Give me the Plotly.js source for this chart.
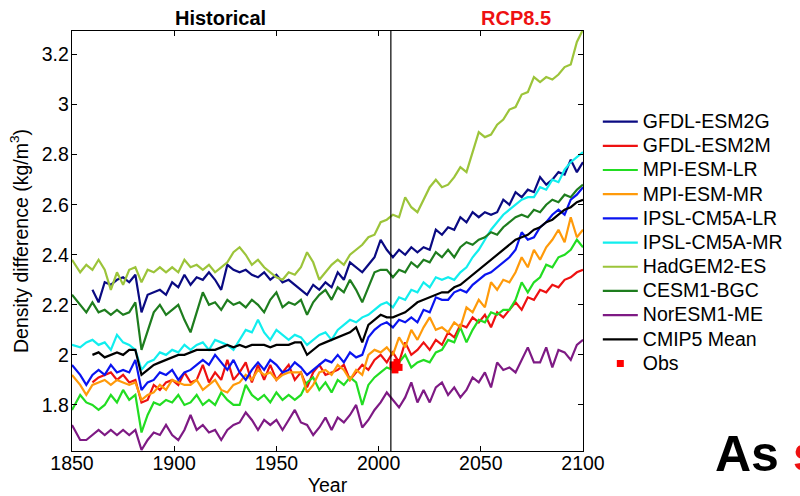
<!DOCTYPE html>
<html>
<head>
<meta charset="utf-8">
<script src="https://cdn.plot.ly/plotly-3.0.1.min.js"></script>
<style>
  html, body { margin: 0; padding: 0; background: #ffffff; }
  #chart { width: 800px; height: 496px; }
</style>
</head>
<body>
<div id="chart"></div>
<script>
// Surface density difference, CMIP5 historical + RCP8.5 runs
const years = [1850, 1854, 1857, 1860, 1863, 1866, 1869, 1872, 1875, 1878,
  1881, 1884, 1887, 1890, 1893, 1896, 1899, 1902, 1905, 1908,
  1911, 1914, 1917, 1920, 1923, 1926, 1929, 1932, 1935, 1938,
  1941, 1944, 1947, 1950, 1953, 1956, 1959, 1962, 1965, 1968,
  1971, 1974, 1977, 1980, 1983, 1986, 1989, 1992, 1995, 1998,
  2001, 2004, 2007, 2010, 2013, 2016, 2019, 2022, 2025, 2028,
  2031, 2034, 2037, 2040, 2043, 2046, 2049, 2052, 2055, 2058,
  2061, 2064, 2067, 2070, 2073, 2076, 2079, 2082, 2085, 2088,
  2091, 2094, 2097, 2100];

const gfdlEsm2g = [null, null, null, 2.26, 2.21, 2.29, 2.28, 2.30, 2.31, 2.29,
  2.32, 2.17, 2.24, 2.25, 2.26, 2.24, 2.29, 2.27, 2.32, 2.28,
  2.31, 2.30, 2.33, 2.30, 2.26, 2.36, 2.34, 2.33, 2.34, 2.32,
  2.31, 2.33, 2.30, 2.32, 2.29, 2.30, 2.28, 2.26, 2.24, 2.28,
  2.26, 2.29, 2.27, 2.33, 2.30, 2.37, 2.35, 2.33, 2.36, 2.39,
  2.46, 2.42, 2.39, 2.42, 2.40, 2.43, 2.41, 2.43, 2.42, 2.50,
  2.48, 2.51, 2.50, 2.55, 2.53, 2.57, 2.55, 2.57, 2.56, 2.57,
  2.62, 2.60, 2.65, 2.63, 2.66, 2.65, 2.71, 2.68, 2.70, 2.73,
  2.72, 2.78, 2.73, 2.77];

const gfdlEsm2m = [null, null, null, 1.89, 1.91, 1.92, 1.93, 1.90, 1.92, 1.89,
  1.90, 1.81, 1.82, 1.88, 1.86, 1.89, 1.90, 1.88, 1.93, 1.89,
  1.90, 1.96, 1.89, 1.93, 1.90, 1.98, 1.90, 1.93, 1.97, 1.89,
  1.96, 1.90, 1.96, 1.90, 1.93, 1.96, 1.90, 1.93, 1.87, 1.93,
  1.96, 1.92, 1.93, 1.94, 1.96, 1.90, 1.93, 1.96, 1.94, 1.98,
  2.00, 1.97, 2.01, 1.97, 2.05, 2.00, 2.02, 2.05, 2.02, 2.06,
  2.04, 2.09, 2.07, 2.12, 2.11, 2.15, 2.13, 2.16, 2.11, 2.17,
  2.15, 2.18, 2.21, 2.18, 2.23, 2.22, 2.26, 2.25, 2.28, 2.27,
  2.30, 2.31, 2.33, 2.34];

const mpiEsmLr = [1.78, 1.84, 1.81, 1.80, 1.78, 1.80, 1.84, 1.81, 1.86, 1.82,
  1.84, 1.69, 1.76, 1.81, 1.80, 1.82, 1.81, 1.84, 1.80, 1.81,
  1.84, 1.80, 1.82, 1.80, 1.85, 1.82, 1.80, 1.80, 1.88, 1.84,
  1.82, 1.84, 1.81, 1.85, 1.82, 1.84, 1.82, 1.84, 1.89, 1.91,
  1.86, 1.89, 1.85, 1.90, 1.88, 1.91, 1.89, 1.80, 1.88, 1.91,
  1.93, 1.95, 1.94, 1.97, 2.00, 1.95, 1.97, 1.98, 1.97, 2.01,
  2.02, 2.06, 2.05, 2.11, 2.05, 2.10, 2.14, 2.13, 2.17, 2.16,
  2.18, 2.18, 2.22, 2.29, 2.25, 2.29, 2.31, 2.36, 2.35, 2.39,
  2.40, 2.42, 2.46, 2.43];

const mpiEsmMr = [1.92, 1.88, 1.84, 1.88, 1.89, 1.90, 1.88, 1.90, 1.89, 1.88,
  1.89, 1.82, 1.84, 1.85, 1.88, 1.86, 1.90, 1.89, 1.88, 1.88,
  1.90, 1.86, 1.88, 1.90, 1.86, 1.85, 1.88, 1.89, 1.92, 1.90,
  1.94, 1.92, 1.93, 1.90, 1.92, 1.93, 1.93, 1.93, 1.85, 1.88,
  1.93, 1.94, 1.92, 1.96, 1.94, 1.90, 1.94, 1.92, 2.00, 2.02,
  2.01, 2.03, 2.00, 2.07, 2.03, 2.10, 2.06, 2.11, 2.15, 2.10,
  2.11, 2.09, 2.13, 2.11, 2.19, 2.17, 2.22, 2.19, 2.29, 2.26,
  2.30, 2.29, 2.33, 2.39, 2.35, 2.42, 2.38, 2.43, 2.46, 2.50,
  2.45, 2.55, 2.47, 2.50];

const ipslLr = [1.96, 1.92, 1.88, 1.92, 1.94, 1.92, 1.96, 1.93, 1.94, 1.93,
  1.98, 1.86, 1.89, 1.90, 1.93, 1.92, 1.94, 1.90, 1.93, 1.94,
  1.96, 1.98, 1.96, 2.00, 1.97, 1.94, 1.98, 1.93, 1.90, 1.94,
  1.97, 1.94, 1.98, 1.96, 1.93, 1.94, 1.97, 1.95, 1.92, 1.94,
  1.96, 1.98, 1.97, 2.00, 1.97, 2.01, 1.99, 2.00, 2.07, 2.10,
  2.12, 2.13, 2.11, 2.14, 2.13, 2.15, 2.13, 2.18, 2.17, 2.23,
  2.22, 2.22, 2.25, 2.26, 2.25, 2.28, 2.30, 2.32, 2.33, 2.35,
  2.37, 2.39, 2.42, 2.49, 2.46, 2.47, 2.51, 2.53, 2.56, 2.58,
  2.56, 2.62, 2.64, 2.67];

const ipslMr = [2.04, 2.03, 2.05, 2.06, 2.04, 2.05, 2.02, 2.08, 2.05, 2.04,
  2.02, 1.94, 1.97, 1.98, 2.01, 2.00, 2.02, 2.01, 2.04, 2.02,
  2.04, 2.05, 2.02, 2.06, 2.05, 2.04, 2.02, 2.06, 2.10, 2.09,
  2.14, 2.09, 2.06, 2.10, 2.08, 2.06, 2.08, 2.07, 2.04, 2.06,
  2.08, 2.09, 2.06, 2.10, 2.12, 2.14, 2.13, 2.15, 2.16, 2.18,
  2.20, 2.21, 2.19, 2.23, 2.22, 2.26, 2.25, 2.29, 2.27, 2.31,
  2.30, 2.31, 2.30, 2.33, 2.35, 2.39, 2.42, 2.46, 2.50, 2.53,
  2.56, 2.58, 2.60, 2.62, 2.63, 2.63, 2.67, 2.66, 2.70, 2.69,
  2.74, 2.77, 2.79, 2.81];

const hadgem2Es = [2.38, 2.33, 2.36, 2.34, 2.38, 2.34, 2.26, 2.33, 2.28, 2.34,
  2.35, 2.29, 2.34, 2.33, 2.35, 2.33, 2.35, 2.33, 2.38, 2.35,
  2.36, 2.34, 2.36, 2.33, 2.35, 2.37, 2.41, 2.43, 2.40, 2.36,
  2.38, 2.35, 2.33, 2.31, 2.30, 2.33, 2.32, 2.35, 2.41, 2.37,
  2.30, 2.33, 2.36, 2.38, 2.36, 2.40, 2.42, 2.44, 2.47, 2.48,
  2.53, 2.54, 2.56, 2.55, 2.63, 2.59, 2.57, 2.62, 2.67, 2.70,
  2.67, 2.68, 2.71, 2.75, 2.73, 2.81, 2.89, 2.87, 2.88, 2.92,
  2.94, 2.98, 2.99, 3.04, 3.05, 3.11, 3.09, 3.11, 3.10, 3.12,
  3.15, 3.16, 3.25, 3.30];

const cesm1Bgc = [2.24, 2.20, 2.17, 2.21, 2.17, 2.18, 2.16, 2.18, 2.16, 2.17,
  2.21, 2.02, 2.10, 2.17, 2.20, 2.16, 2.18, 2.20, 2.14, 2.09,
  2.17, 2.25, 2.20, 2.21, 2.18, 2.22, 2.20, 2.21, 2.19, 2.22,
  2.20, 2.17, 2.22, 2.25, 2.19, 2.21, 2.20, 2.22, 2.16, 2.21,
  2.24, 2.26, 2.22, 2.27, 2.25, 2.30, 2.26, 2.21, 2.27, 2.33,
  2.34, 2.34, 2.31, 2.34, 2.33, 2.37, 2.35, 2.38, 2.37, 2.41,
  2.39, 2.42, 2.39, 2.43, 2.45, 2.44, 2.46, 2.47, 2.49, 2.48,
  2.51, 2.53, 2.55, 2.56, 2.55, 2.58, 2.57, 2.60, 2.62, 2.61,
  2.64, 2.63, 2.66, 2.68];

const noresm1Me = [1.72, 1.66, 1.66, 1.68, 1.70, 1.68, 1.70, 1.68, 1.70, 1.68,
  1.70, 1.62, 1.66, 1.69, 1.68, 1.72, 1.68, 1.66, 1.70, 1.76,
  1.70, 1.72, 1.69, 1.70, 1.66, 1.70, 1.72, 1.73, 1.77, 1.74,
  1.70, 1.74, 1.72, 1.74, 1.70, 1.74, 1.78, 1.73, 1.72, 1.68,
  1.71, 1.75, 1.70, 1.75, 1.73, 1.76, 1.80, 1.71, 1.74, 1.78,
  1.81, 1.85, 1.82, 1.79, 1.83, 1.89, 1.81, 1.86, 1.81, 1.87,
  1.89, 1.84, 1.87, 1.83, 1.86, 1.91, 1.89, 1.93, 1.87, 1.97,
  1.94, 1.95, 1.93, 1.98, 2.03, 1.97, 1.97, 2.03, 1.95, 2.02,
  2.01, 1.98, 2.04, 2.06];

const cmip5Mean = [null, null, null, 2.00, 2.01, 1.99, 2.00, 2.01, 2.00, 2.02,
  2.02, 1.92, 1.94, 1.96, 1.97, 1.98, 1.99, 2.00, 2.00, 2.01,
  2.02, 2.02, 2.02, 2.02, 2.03, 2.04, 2.03, 2.04, 2.03, 2.04,
  2.04, 2.04, 2.03, 2.04, 2.04, 2.04, 2.05, 2.05, 2.00, 2.02,
  2.04, 2.05, 2.06, 2.07, 2.08, 2.09, 2.11, 2.05, 2.12, 2.14,
  2.16, 2.15, 2.15, 2.16, 2.17, 2.19, 2.21, 2.22, 2.23, 2.24,
  2.25, 2.25, 2.27, 2.28, 2.30, 2.32, 2.34, 2.36, 2.38, 2.40,
  2.42, 2.44, 2.46, 2.47, 2.48, 2.50, 2.51, 2.53, 2.54, 2.56,
  2.58, 2.59, 2.61, 2.62];

// Observational estimate
const obsYears = [2007, 2008, 2009, 2010];
const obsValues = [1.96, 1.94, 1.97, 1.95];

const modelNames = ['GFDL-ESM2G', 'GFDL-ESM2M', 'MPI-ESM-LR', 'MPI-ESM-MR',
  'IPSL-CM5A-LR', 'IPSL-CM5A-MR', 'HadGEM2-ES', 'CESM1-BGC', 'NorESM1-ME', 'CMIP5 Mean'];
const modelSeries = [gfdlEsm2g, gfdlEsm2m, mpiEsmLr, mpiEsmMr, ipslLr, ipslMr,
  hadgem2Es, cesm1Bgc, noresm1Me, cmip5Mean];
const modelColors = ['#0a0a82', '#ee1111', '#22dd22', '#ff9a0a', '#0a14f0',
  '#11eeee', '#9cc43a', '#1e7d1e', '#7e1a84', '#000000'];

const rcpStart = 2006;
const FONT = '"Liberation Sans", Arial, Helvetica, sans-serif';
const legendLabel = s => '<span style="font-size:19.5px">' + s + '</span>';

const traces = modelSeries.map((vals, i) => ({
  type: 'scatter',
  mode: 'lines',
  x: years,
  y: vals,
  name: legendLabel(modelNames[i]),
  line: { color: modelColors[i], width: 2.2 },
  connectgaps: false,
  hoverinfo: 'skip'
}));

traces.push({
  type: 'scatter',
  mode: 'markers',
  x: obsYears,
  y: obsValues,
  name: legendLabel('Obs'),
  marker: { symbol: 'square', color: '#ff0000', size: 7 },
  hoverinfo: 'skip'
});

const layout = {
  width: 800,
  height: 496,
  margin: { l: 72, r: 214, t: 31, b: 45, pad: 0 },
  paper_bgcolor: '#ffffff',
  plot_bgcolor: '#ffffff',
  font: { family: FONT, size: 19.5, color: '#000000' },
  showlegend: true,
  legend: {
    x: 1.029, xanchor: 'left',
    y: 0.825, yanchor: 'top',
    bgcolor: 'rgba(0,0,0,0)',
    borderwidth: 0,
    itemwidth: 35,
    font: { family: FONT, size: 16.3, color: '#000000' },
    tracegroupgap: 0
  },
  xaxis: {
    range: [1850, 2100],
    tick0: 1850, dtick: 50,
    ticks: 'inside', ticklen: 5, tickwidth: 1, tickcolor: '#000000',
    showline: true, linecolor: '#000000', linewidth: 1.3,
    mirror: 'ticks',
    showgrid: false, zeroline: false,
    ticklabelstandoff: -6,
    tickfont: { family: FONT, size: 19.5, color: '#000000' },
    title: { text: 'Year', font: { family: FONT, size: 19.5, color: '#000000' }, standoff: 6 }
  },
  yaxis: {
    range: [1.616, 3.294],
    tick0: 0, dtick: 0.2,
    ticks: 'inside', ticklen: 5, tickwidth: 1, tickcolor: '#000000',
    showline: true, linecolor: '#000000', linewidth: 1.3,
    mirror: 'ticks',
    showgrid: false, zeroline: false,
    ticklabelstandoff: -2,
    tickfont: { family: FONT, size: 19.5, color: '#000000' },
    title: { text: 'Density difference (kg/m<sup>3</sup>)', font: { family: FONT, size: 19.5, color: '#000000' }, standoff: 8 }
  },
  shapes: [{
    type: 'line', xref: 'x', yref: 'paper',
    x0: rcpStart, x1: rcpStart, y0: 0, y1: 1,
    line: { color: '#000000', width: 1.2 }
  }],
  annotations: [
    {
      text: '<b>Historical</b>', xref: 'paper', yref: 'paper',
      x: 0.29, y: 1.0, xanchor: 'center', yanchor: 'bottom',
      showarrow: false, font: { family: FONT, size: 20, color: '#000000' }
    },
    {
      text: '<b>RCP8.5</b>', xref: 'paper', yref: 'paper',
      x: 0.868, y: 1.0, xanchor: 'center', yanchor: 'bottom',
      showarrow: false, font: { family: FONT, size: 20, color: '#ee1111' }
    },
    {
      text: '<b>As <span style="color:#ee1111">s</span></b>', xref: 'paper', yref: 'paper',
      x: 1.255, y: -0.006, xanchor: 'left', yanchor: 'middle',
      showarrow: false, font: { family: FONT, size: 50, color: '#000000' }
    }
  ]
};

Plotly.newPlot('chart', traces, layout, { staticPlot: true, displayModeBar: false });
</script>
</body>
</html>
